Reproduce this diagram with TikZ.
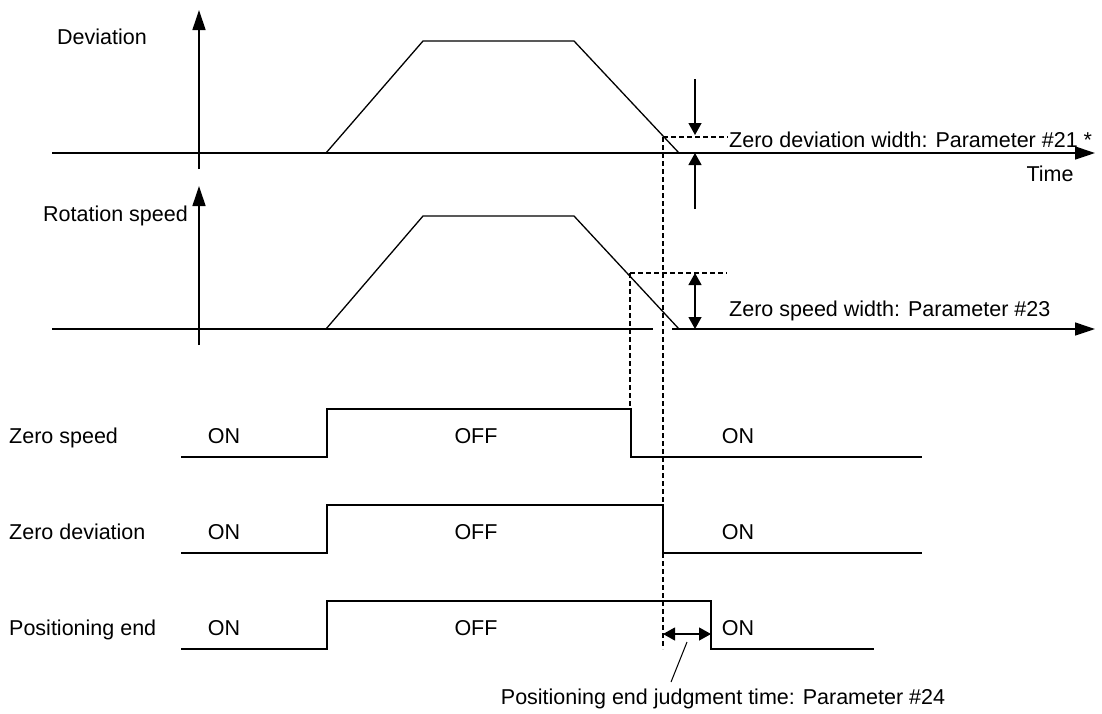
\documentclass[tikz,border=0pt]{standalone}
\usepackage{fontspec}
\setmainfont{Liberation Sans}
\usetikzlibrary{arrows.meta}
\tikzset{
  txt/.style={inner sep=0pt, anchor=base west, font=\fontsize{21.5}{26}\selectfont},
  ctxt/.style={inner sep=0pt, anchor=base, font=\fontsize{21.5}{26}\selectfont},
  ln/.style={line width=1.3pt, line join=miter},
  axis/.style={line width=1.3pt, -{Triangle[length=20pt,width=13pt]}},
  dim/.style={line width=1.2pt, -{Triangle[length=12pt,width=13pt]}},
  dimboth/.style={line width=1.2pt, {Triangle[length=12pt,width=13pt]}-{Triangle[length=12pt,width=13pt]}},
  dsh/.style={line width=1.1pt, dash pattern=on 5pt off 3pt},
  thin/.style={line width=1pt}
}
\begin{document}
\begin{tikzpicture}[x=1pt,y=-1pt]
\useasboundingbox (0,0) rectangle (1102,713);

% ---------- Deviation chart ----------
\coordinate (d0) at (52,153);
\coordinate (dT) at (1095,153);
\draw[axis] (d0) -- (dT);
\draw[axis] (199,169) -- (199,10);
\draw[ln] (326,153) -- (423,41) -- (574,41) -- (679,153);
\node[txt] (devlbl) at (57,44) {Deviation};
\node[ctxt] (timelbl) at (1050,181) {Time};
% zero deviation width
\coordinate (zdA) at (695,79);
\coordinate (zdB) at (695,135);
\coordinate (zdC) at (695,209);
\coordinate (zdD) at (695,153);
\draw[dim] (zdA) -- (zdB);
\draw[dim] (zdC) -- (zdD);
\coordinate (zdL) at (663,137);
\coordinate (zdR) at (728,137);
\draw[dsh] (zdL) -- (zdR);
\node[txt] (zdw) at (729,147) {Zero deviation width: Parameter \#21 *};

% ---------- Rotation speed chart ----------
\draw[ln] (52,329) -- (653,329);
\draw[axis] (672,329) -- (1095,329);
\draw[axis] (199,345) -- (199,186);
\draw[ln] (326,329) -- (423,216) -- (574,216) -- (679,329);
\node[txt] (rotlbl) at (43,221) {Rotation speed};
\coordinate (zsL) at (630,273);
\coordinate (zsR) at (727,273);
\draw[dsh] (zsL) -- (zsR);
\coordinate (zsA) at (695,273);
\coordinate (zsB) at (695,329);
\draw[dimboth] (zsA) -- (zsB);
\node[txt] (zsw) at (729,316) {Zero speed width: Parameter \#23};

% ---------- dashed verticals ----------
\draw[dsh] (zsL) -- (630,409);
\draw[dsh] (zdL) -- (663,649);

% ---------- Zero speed signal ----------
\draw[ln] (181,457) -- (327,457) -- (327,409) -- (631,409) -- (631,457) -- (922,457);
\node[txt] (zslbl) at (9,443) {Zero speed};
\node[ctxt] (zson1) at (224,443) {ON};
\node[ctxt] (zsoff) at (476,443) {OFF};
\node[ctxt] (zson2) at (738,443) {ON};

% ---------- Zero deviation signal ----------
\draw[ln] (181,553) -- (327,553) -- (327,505) -- (663,505) -- (663,553) -- (922,553);
\node[txt] (zdlbl) at (9,539) {Zero deviation};
\node[ctxt] (zdon1) at (224,539) {ON};
\node[ctxt] (zdoff) at (476,539) {OFF};
\node[ctxt] (zdon2) at (738,539) {ON};

% ---------- Positioning end signal ----------
\draw[ln] (181,649) -- (327,649) -- (327,601) -- (711,601) -- (711,649) -- (874,649);
\node[txt] (pelbl) at (9,635) {Positioning end};
\node[ctxt] (peon1) at (224,635) {ON};
\node[ctxt] (peoff) at (476,635) {OFF};
\node[ctxt] (peon2) at (738,635) {ON};
\coordinate (pjA) at (663,634);
\coordinate (pjB) at (711,634);
\draw[dimboth] (pjA) -- (pjB);
\node[ctxt] (pjt) at (723,704) {Positioning end judgment time: Parameter \#24};
\coordinate (ldA) at (687,642);
\coordinate (ldB) at (671,682);
\draw[thin] (ldA) -- (ldB);
\end{tikzpicture}
\end{document}
